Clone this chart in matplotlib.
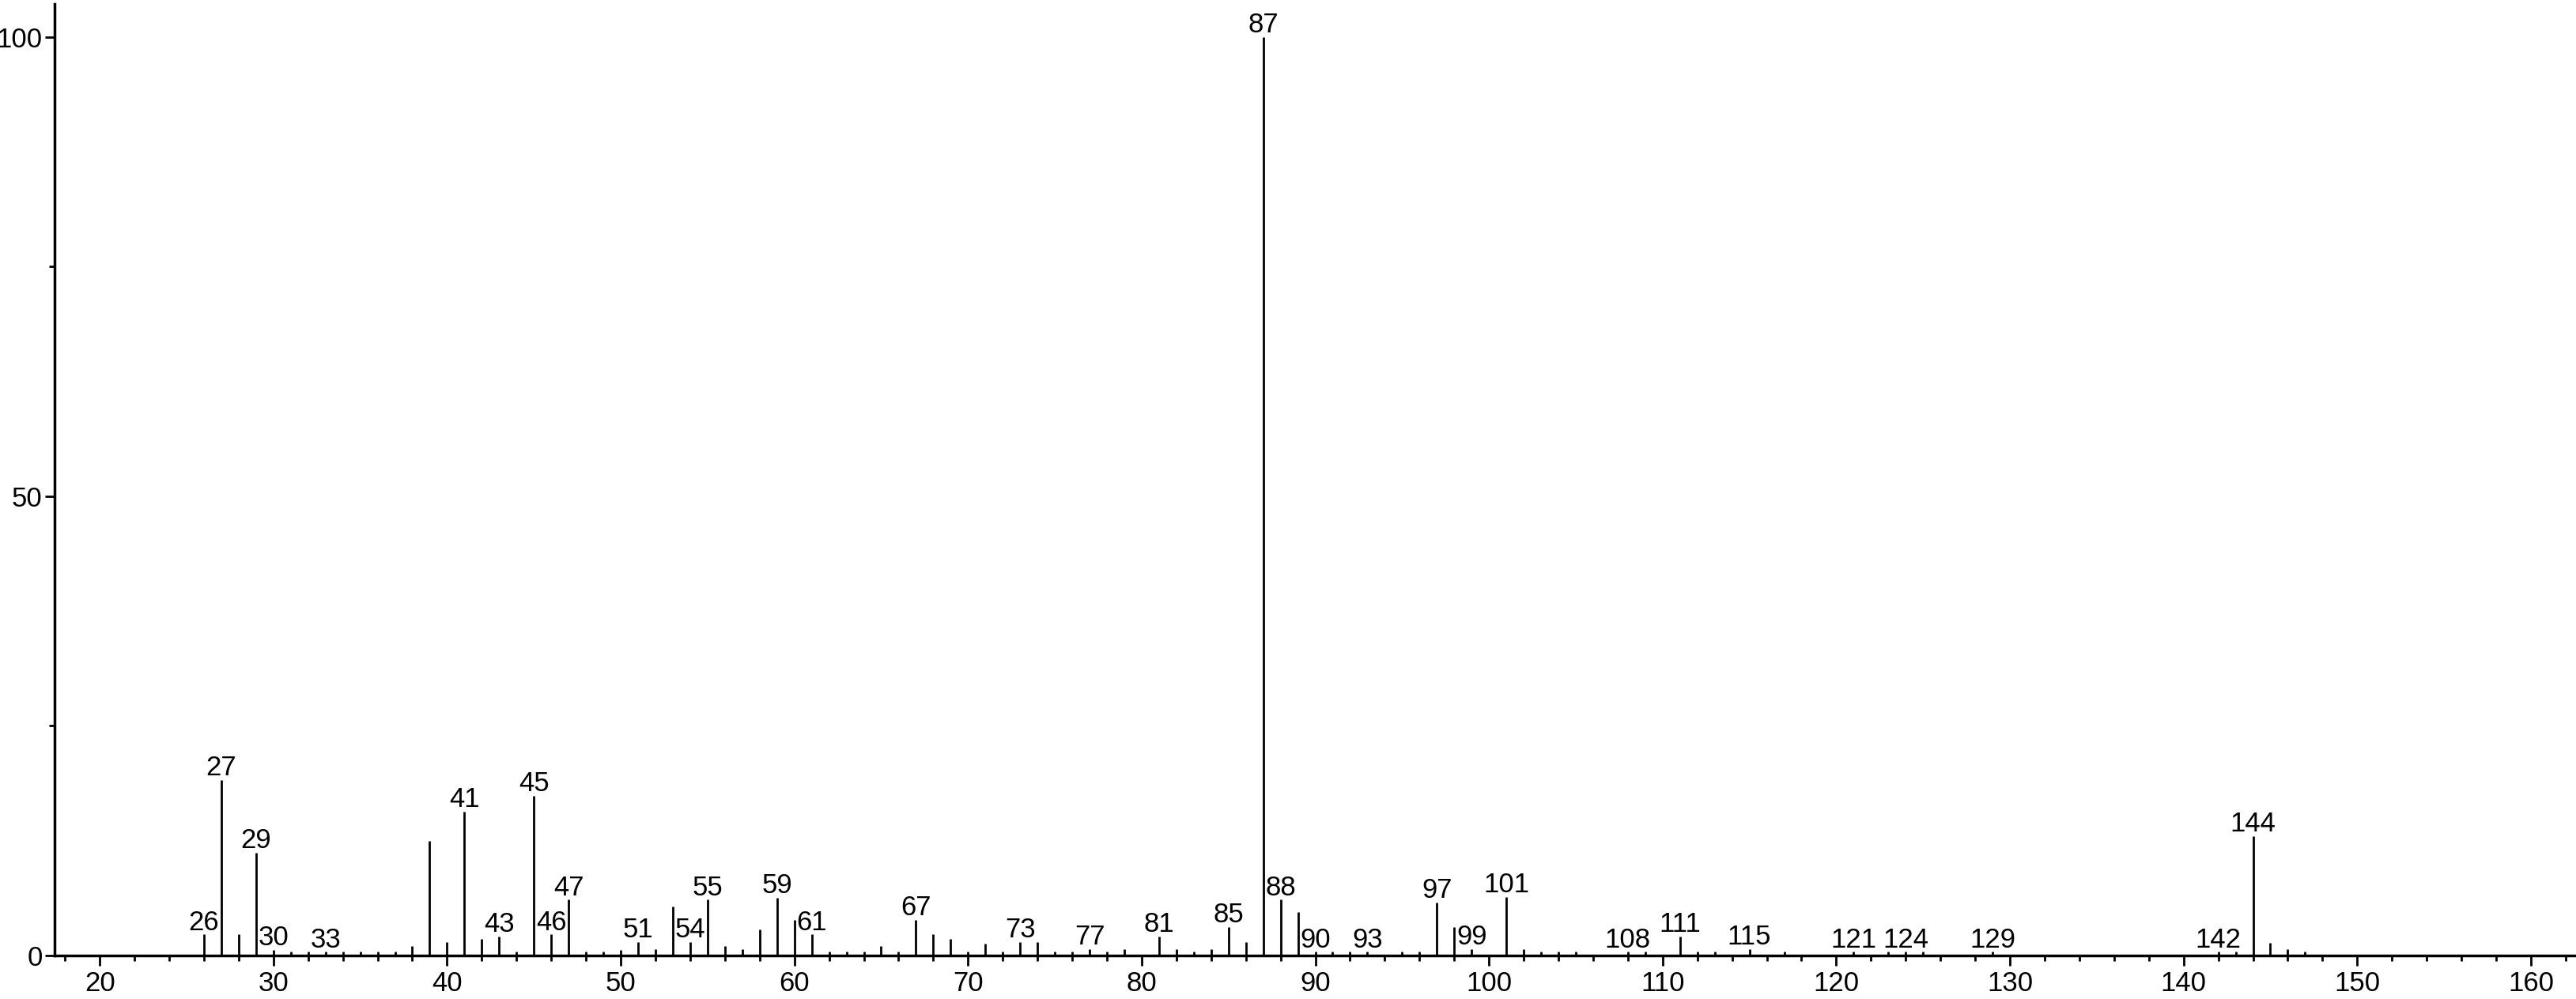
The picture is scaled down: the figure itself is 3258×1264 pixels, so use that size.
import matplotlib
matplotlib.use("Agg")
import matplotlib.pyplot as plt
from matplotlib.ticker import MultipleLocator

plt.rcParams['font.family'] = ['Liberation Sans', 'DejaVu Sans']

# m/z values and relative intensities
mz = [26, 27, 28, 29, 30, 31, 32, 33, 34, 35, 36, 37, 38, 39, 40, 41, 42, 43, 44, 45,
      46, 47, 48, 49, 50, 51, 52, 53, 54, 55, 56, 57, 58, 59, 60, 61, 62, 63, 64, 65,
      66, 67, 68, 69, 70, 71, 72, 73, 74, 75, 76, 77, 78, 79, 81, 82, 83, 84, 85, 86,
      87, 88, 89, 90, 91, 92, 93, 95, 96, 97, 98, 99, 101, 102, 103, 104, 105, 108, 109, 111,
      112, 113, 115, 117, 121, 123, 124, 125, 129, 142, 143, 144, 145, 146, 147]
intensity = [2.3, 19.1, 2.3, 11.2, 0.6, 0.4, 0.4, 0.4, 0.4, 0.4, 0.4, 0.4, 1.0, 12.5, 1.5, 15.7, 1.8, 2.1, 0.4, 17.4,
             2.3, 6.1, 0.4, 0.4, 0.6, 1.5, 0.7, 5.3, 1.5, 6.1, 1.0, 0.7, 2.8, 6.3, 3.9, 2.3, 0.4, 0.4, 0.4, 1.0,
             0.4, 3.9, 2.3, 1.8, 0.4, 1.3, 0.4, 1.5, 1.5, 0.4, 0.4, 0.7, 0.4, 0.7, 2.1, 0.7, 0.4, 0.7, 3.1, 1.5,
             100, 6.1, 4.7, 0.4, 0.4, 0.4, 0.4, 0.4, 0.4, 5.8, 3.1, 0.7, 6.4, 0.7, 0.4, 0.4, 0.4, 0.4, 0.4, 2.1,
             0.4, 0.4, 0.7, 0.4, 0.4, 0.4, 0.4, 0.4, 0.4, 0.4, 0.4, 13.0, 1.4, 0.7, 0.4]

# peaks that carry a number above them
labelled = [26, 27, 29, 30, 33, 41, 43, 45, 46, 47, 51, 54, 55, 59, 61, 67, 73, 77, 81, 85,
            87, 88, 90, 93, 97, 99, 101, 108, 111, 115, 121, 124, 129, 142, 144]

fig = plt.figure(figsize=(32.58, 12.64), dpi=100)
ax = fig.add_axes([0.0212, 0.0435, 0.9788, 0.9525])

ax.vlines(mz, 0, intensity, color='black', linewidth=2.0)

peak = dict(zip(mz, intensity))
for m in labelled:
    ax.annotate(str(m), (m, peak[m]), xytext=(0, 4), textcoords='offset points',
                ha='center', va='baseline', fontsize=25)

ax.set_xlim(17.4, 162.6)
ax.set_ylim(0, 103.6)
ax.spines['top'].set_visible(False)
ax.spines['right'].set_visible(False)
ax.spines['left'].set_linewidth(2.5)
ax.spines['bottom'].set_linewidth(2.5)

ax.xaxis.set_major_locator(MultipleLocator(10))
ax.xaxis.set_minor_locator(MultipleLocator(2))
ax.yaxis.set_major_locator(MultipleLocator(50))
ax.yaxis.set_minor_locator(MultipleLocator(25))
ax.tick_params(axis='both', which='major', direction='out', length=9, width=2, labelsize=25)
ax.tick_params(axis='both', which='minor', direction='out', length=5, width=2)
ax.tick_params(axis='x', which='major', pad=5)
ax.tick_params(axis='y', which='major', pad=2)

fig.savefig('out.png', dpi=100)
